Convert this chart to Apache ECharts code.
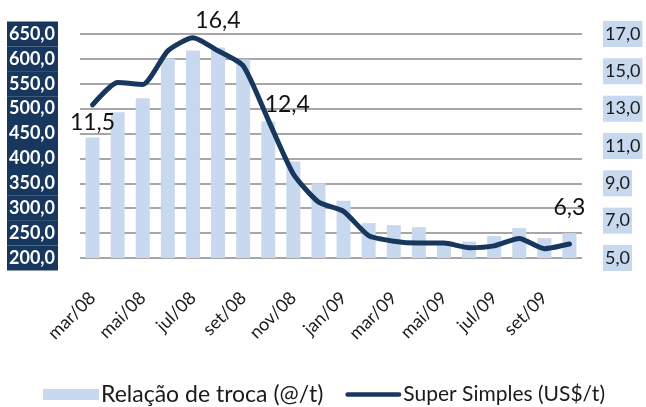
<!DOCTYPE html>
<html lang="pt">
<head>
  <meta charset="UTF-8">
  <title>Relação de troca x Super Simples</title>
  <script src="https://cdn.jsdelivr.net/npm/echarts@6/dist/echarts.min.js"></script>
  <style>
    html, body { margin: 0; padding: 0; background: #fff; }
    #main { width: 646px; height: 407px; }
  </style>
</head>
<body>
<div id="main"></div>
<script>
  // meses (mar/08 .. out/09)
  var meses = ['mar/08', 'abr/08', 'mai/08', 'jun/08', 'jul/08', 'ago/08', 'set/08', 'out/08', 'nov/08', 'dez/08',
    'jan/09', 'fev/09', 'mar/09', 'abr/09', 'mai/09', 'jun/09', 'jul/09', 'ago/09', 'set/09', 'out/09'];
  // Relação de troca (@/t) - eixo da esquerda
  var relacaoTroca = [442, 493, 521, 601, 617, 623, 599, 474, 394, 350,
    315, 270, 266, 262, 233, 233, 244, 260, 240, 250];
  // Super Simples (US$/t) - eixo da direita
  var superSimples = [13.2, 14.4, 14.3, 16.1, 16.8, 16.1, 15.3, 12.4, 9.5, 8.0,
    7.5, 6.2, 5.9, 5.8, 5.8, 5.55, 5.65, 6.05, 5.5, 5.75];
  // rotulos que aparecem na linha
  var rotulosLinha = {0: '11,5', 4: '16,4', 7: '12,4', 19: '6,3'};
  var deslocRotulo = {0: [0, 18], 4: [25, -17], 7: [19, -15], 19: [0, -36]};

  var azulEscuro = '#17375e';
  var azulClaro = '#c8d8ee';
  var fonte = 'Lato, "Open Sans", sans-serif';

  function virgula(v) {
    return Number(v).toFixed(1).replace('.', ',');
  }

  var dadosLinha = superSimples.map(function (v, i) {
    if (rotulosLinha[i] === undefined) {
      return {value: v, label: {show: false}};
    }
    return {value: v, label: {show: true, offset: deslocRotulo[i]}};
  });

  var myChart = echarts.init(document.getElementById('main'));
  myChart.setOption({
    animation: false,
    textStyle: {fontFamily: fonte},
    grid: {left: 80, right: 64, top: 34, bottom: 149},
    legend: {
      bottom: 1,
      left: 43,
      padding: 0,
      itemGap: 22,
      itemWidth: 56,
      itemHeight: 11,
      symbolKeepAspect: true,
      textStyle: {fontFamily: fonte, color: '#1a1a1a', fontSize: 20, padding: [0, 0, 0, -3]},
      data: [
        {
          name: 'Relação de troca (@/t)',
          icon: 'rect',
          textStyle: {fontSize: 23, fontFamily: fonte, color: '#1a1a1a', padding: [0, 0, 0, -3]}
        },
        {
          name: 'Super Simples (US$/t)',
          icon: 'path://M2,0H54A2,2 0 0 1 54,4.5H2A2,2 0 0 1 2,0Z',
          textStyle: {fontSize: 21, fontFamily: fonte, color: '#1a1a1a', padding: [0, 0, 0, -3]}
        }
      ]
    },
    xAxis: {
      type: 'category',
      data: meses,
      axisLine: {show: false},
      axisTick: {show: false},
      axisLabel: {
        interval: 1,
        rotate: 45,
        margin: 37,
        fontSize: 18,
        color: '#1a1a1a',
        fontFamily: fonte
      }
    },
    yAxis: [
      {
        type: 'value',
        min: 200,
        max: 650,
        interval: 50,
        axisLine: {show: false},
        axisTick: {show: false},
        splitLine: {lineStyle: {color: '#8a8a8a', width: 1.5}},
        axisLabel: {
          formatter: virgula,
          margin: 22,
          color: '#fff',
          fontWeight: 'bold',
          fontSize: 18,
          lineHeight: 25,
          width: 45,
          align: 'right',
          padding: [0, 3, 0, 3],
          backgroundColor: azulEscuro,
          fontFamily: fonte
        }
      },
      {
        type: 'value',
        min: 5,
        max: 17,
        interval: 2,
        axisLine: {show: false},
        axisTick: {show: false},
        splitLine: {show: false},
        axisLabel: {
          formatter: virgula,
          margin: 21,
          color: '#1a1a1a',
          fontSize: 18,
          lineHeight: 26,
          padding: [0, 2, 0, 2],
          backgroundColor: azulClaro,
          fontFamily: fonte
        }
      }
    ],
    series: [
      {
        name: 'Relação de troca (@/t)',
        type: 'bar',
        yAxisIndex: 0,
        barWidth: 14,
        itemStyle: {color: azulClaro},
        data: relacaoTroca
      },
      {
        name: 'Super Simples (US$/t)',
        type: 'line',
        yAxisIndex: 1,
        smooth: 0.2,
        symbol: 'circle',
        symbolSize: 1,
        showSymbol: true,
        itemStyle: {color: azulEscuro},
        lineStyle: {color: azulEscuro, width: 5, cap: 'round', join: 'round'},
        label: {
          show: true,
          position: 'inside',
          fontSize: 23,
          color: '#111',
          fontFamily: fonte,
          formatter: function (p) {
            return rotulosLinha[p.dataIndex] || '';
          }
        },
        data: dadosLinha
      }
    ]
  });
</script>
</body>
</html>
